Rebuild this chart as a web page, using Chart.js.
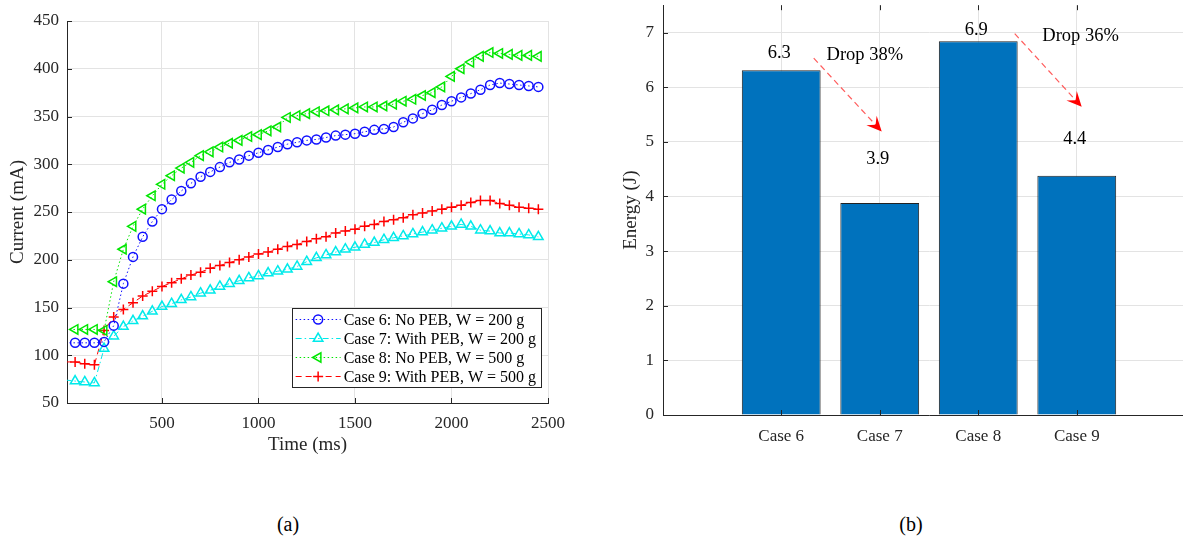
<!DOCTYPE html>
<html>
<head>
<meta charset="utf-8">
<script src="https://cdn.jsdelivr.net/npm/chart.js@4.4.0/dist/chart.umd.min.js"></script>
<style>
  html, body { margin: 0; padding: 0; background: #fff; }
  body { width: 1183px; height: 540px; position: relative; overflow: hidden; font-family: "Liberation Serif", "Times New Roman", serif; }
  #chartA { position: absolute; left: 0; top: 0; }
  #chartB { position: absolute; left: 600px; top: -14px; }
  .cap { position: absolute; top: 513px; width: 100px; text-align: center; font-size: 20px; line-height: 22px; color: #000; }
</style>
</head>
<body>
<canvas id="chartA" width="575" height="456"></canvas>
<canvas id="chartB" width="600" height="480"></canvas>
<div class="cap" style="left:238px">(a)</div>
<div class="cap" style="left:861px">(b)</div>

<script>
// ---- data, panel (a) ----
const timeMs = [0, 50, 100, 150, 200, 250, 300, 350, 400, 450, 500, 550, 600, 650, 700, 750, 800, 850, 900, 950,
  1000, 1050, 1100, 1150, 1200, 1250, 1300, 1350, 1400, 1450, 1500, 1550, 1600, 1650, 1700, 1750, 1800, 1850, 1900, 1950,
  2000, 2050, 2100, 2150, 2200, 2250, 2300, 2350, 2400, 2450];

const case6 = [113, 113, 113, 113, 114, 131, 175, 203, 224, 240, 253, 263, 272, 280, 287, 292, 297, 302, 305, 309,
  312, 315, 318, 321, 323, 325, 326, 328, 330, 331, 332, 334, 336, 337, 339, 344, 348, 353, 357, 362,
  366, 370, 374, 378, 383, 385, 384, 383, 382, 381];
const case7 = [74, 73, 72, 71, 107, 120, 130, 136, 141, 146, 151, 154, 158, 161, 165, 168, 172, 175, 178, 181,
  183, 186, 188, 190, 193, 198, 202, 205, 208, 211, 213, 216, 218, 221, 223, 225, 227, 229, 231, 233,
  235, 237, 235, 231, 230, 228, 228, 227, 226, 224];
const case8 = [127, 127, 127, 127, 126, 177, 211, 235, 253, 267, 279, 288, 296, 302, 309, 313, 318, 322, 325, 329,
  331, 335, 339, 349, 351, 353, 355, 356, 357, 358, 359, 360, 360, 361, 363, 366, 368, 372, 375, 381,
  392, 400, 407, 413, 417, 416, 415, 414, 414, 413];
const case9 = [93, 93, 91, 90, 126, 140, 148, 155, 162, 167, 172, 176, 180, 184, 187, 191, 194, 197, 200, 203,
  206, 208, 211, 214, 216, 219, 222, 224, 228, 230, 232, 235, 237, 240, 242, 244, 247, 249, 251, 253,
  255, 257, 260, 262, 262, 259, 257, 255, 254, 253];

const seriesNames = ['Case 6: No PEB, W = 200 g', 'Case 7: With PEB, W = 200 g', 'Case 8: No PEB, W = 500 g', 'Case 9: With PEB, W = 500 g'];
const xTickValues = [500, 1000, 1500, 2000, 2500];

// ---- data, panel (b) ----
const caseLabels = ['Case 6', 'Case 7', 'Case 8', 'Case 9'];
const casePos = [1, 2, 3, 4];
const energyJ = [6.31, 3.88, 6.84, 4.38];
const energyText = ['6.3', '3.9', '6.9', '4.4'];
const energyTextY = [6.62, 4.68, 7.05, 5.04];
const dropText = ['Drop 38%', 'Drop 36%'];
const dropTextX = [1.46, 3.65];
const dropTextY = [6.58, 6.94];
const arrowFrom = [[1.33, 6.53], [3.37, 6.98]];
const arrowTo = [[2.02, 5.19], [4.05, 5.64]];
const energyTicks = [0, 1, 2, 3, 4, 5, 6, 7];

const serif = '"Liberation Serif", "Times New Roman", serif';
const axisColor = '#262626';
const gridColor = '#e3e3e3';
Chart.defaults.font.family = serif;

function pts(vals) {
  return vals.map((v, i) => ({ x: timeMs[i], y: v }));
}

// MATLAB-like inward tick marks
function innerTicks(withTop) {
  return {
    id: 'innerTicks',
    afterDraw(chart) {
      const ctx = chart.ctx, a = chart.chartArea;
      const xs = chart.scales.x, ys = chart.scales.y;
      ctx.save();
      ctx.strokeStyle = axisColor;
      ctx.lineWidth = 1;
      ctx.beginPath();
      xs.ticks.forEach((t, i) => {
        const px = Math.round(xs.getPixelForTick(i)) + 0.5;
        ctx.moveTo(px, a.bottom); ctx.lineTo(px, a.bottom - 5);
        if (withTop) { ctx.moveTo(px, a.top); ctx.lineTo(px, a.top + 5); }
      });
      ys.ticks.forEach((t, i) => {
        const py = Math.round(ys.getPixelForTick(i)) + 0.5;
        ctx.moveTo(a.left, py); ctx.lineTo(a.left + 5, py);
      });
      ctx.stroke();
      ctx.restore();
    }
  };
}

// legend box inside the plot, bottom right
const legendBox = {
  id: 'legendBox',
  afterDraw(chart) {
    const ctx = chart.ctx, a = chart.chartArea;
    ctx.save();
    ctx.font = '16px ' + serif;
    let maxW = 0;
    chart.data.datasets.forEach(d => { maxW = Math.max(maxW, ctx.measureText(d.label).width); });
    const rowH = 19;
    const w = 52 + maxW + 5, h = rowH * chart.data.datasets.length + 3;
    const right = a.right - 7, bottom = a.bottom - 16;
    const left = right - w, top = bottom - h;
    ctx.fillStyle = '#fff';
    ctx.fillRect(left, top, w, h);
    ctx.strokeStyle = axisColor;
    ctx.lineWidth = 1;
    ctx.strokeRect(Math.round(left) + 0.5, Math.round(top) + 0.5, Math.round(w), Math.round(h));
    chart.data.datasets.forEach((d, i) => {
      const cy = top + 11.5 + i * rowH;
      ctx.strokeStyle = d.borderColor;
      ctx.lineWidth = d.borderWidth;
      ctx.setLineDash(d.borderDash || []);
      ctx.beginPath();
      ctx.moveTo(left + 4, cy); ctx.lineTo(left + 49, cy);
      ctx.stroke();
      ctx.setLineDash([]);
      ctx.fillStyle = 'rgba(0,0,0,0)';
      ctx.lineWidth = d.pointBorderWidth;
      Chart.helpers.drawPoint(ctx, { pointStyle: d.pointStyle, rotation: d.pointRotation || 0, radius: d.legendRadius, borderWidth: d.pointBorderWidth }, left + 26.5, cy);
      ctx.fillStyle = '#000';
      ctx.textBaseline = 'middle';
      ctx.textAlign = 'left';
      ctx.fillText(d.label, left + 52, cy + 1);
    });
    ctx.restore();
  }
};

function lineSet(label, vals, color, dash, style, radius, rot) {
  return {
    label: label,
    data: pts(vals),
    borderColor: color,
    borderWidth: 1,
    borderDash: dash,
    tension: 0,
    pointStyle: style,
    pointRotation: rot || 0,
    legendRadius: radius,
    pointRadius: (c) => c.dataIndex === 0 ? 0 : radius,
    pointBorderWidth: 1.5,
    pointBorderColor: color,
    pointBackgroundColor: 'rgba(0,0,0,0)'
  };
}

const chartA = new Chart(document.getElementById('chartA'), {
  type: 'line',
  data: {
    datasets: [
      lineSet(seriesNames[0], case6, '#1010ff', [1.5, 2.5], 'circle', 4.5),
      lineSet(seriesNames[1], case7, '#00eaea', [6, 3, 1.5, 3], 'triangle', 5.5),
      lineSet(seriesNames[2], case8, '#00e600', [1.5, 2.5], 'triangle', 5.5, -90),
      lineSet(seriesNames[3], case9, '#ff0000', [6, 4], 'cross', 5)
    ]
  },
  options: {
    responsive: false,
    animation: false,
    layout: { padding: { top: 21, right: 25, bottom: 0, left: 0 } },
    plugins: { legend: { display: false }, tooltip: { enabled: false } },
    scales: {
      x: {
        type: 'linear', min: 8, max: 2500,
        afterBuildTicks: s => { s.ticks = xTickValues.map(v => ({ value: v })); },
        afterFit: s => { s.height = 53; },
        grid: { color: gridColor, drawTicks: false },
        border: { color: axisColor },
        ticks: { padding: 10, color: axisColor, font: { size: 17 }, maxRotation: 0, callback: v => String(v) },
        title: { display: true, text: 'Time (ms)', color: axisColor, font: { size: 19 }, padding: 0 }
      },
      y: {
        min: 50, max: 450,
        ticks: { stepSize: 50, padding: 8, color: axisColor, font: { size: 17 } },
        afterFit: s => { s.width = 67; },
        grid: { color: gridColor, drawTicks: false },
        border: { color: axisColor },
        title: { display: true, text: 'Current (mA)', color: axisColor, font: { size: 19 }, padding: { top: 7, bottom: 0 } }
      }
    }
  },
  plugins: [innerTicks(false), legendBox]
});

// annotations for panel (b)
function arrowHead(ctx, x0, y0, x1, y1) {
  const ang = Math.atan2(y1 - y0, x1 - x0);
  const L = 15, W = 7;
  const dx = Math.cos(ang), dy = Math.sin(ang);
  ctx.beginPath();
  ctx.moveTo(x1, y1);
  ctx.lineTo(x1 - L * dx - W * dy, y1 - L * dy + W * dx);
  ctx.lineTo(x1 - 0.6 * L * dx, y1 - 0.6 * L * dy);
  ctx.lineTo(x1 - L * dx + W * dy, y1 - L * dy - W * dx);
  ctx.closePath();
  ctx.fill();
}

const barNotes = {
  id: 'barNotes',
  afterDatasetsDraw(chart) {
    const ctx = chart.ctx, xs = chart.scales.x, ys = chart.scales.y;
    ctx.save();
    ctx.font = '18.5px ' + serif;
    ctx.fillStyle = '#000';
    ctx.textBaseline = 'middle';
    ctx.textAlign = 'center';
    energyText.forEach((t, i) => {
      ctx.fillText(t, xs.getPixelForValue(casePos[i]) - 2, ys.getPixelForValue(energyTextY[i]));
    });
    ctx.textAlign = 'left';
    dropText.forEach((t, i) => {
      ctx.fillText(t, xs.getPixelForValue(dropTextX[i]), ys.getPixelForValue(dropTextY[i]));
    });
    arrowFrom.forEach((f, i) => {
      const x0 = xs.getPixelForValue(f[0]), y0 = ys.getPixelForValue(f[1]);
      const x1 = xs.getPixelForValue(arrowTo[i][0]), y1 = ys.getPixelForValue(arrowTo[i][1]);
      ctx.strokeStyle = '#ff5c5c';
      ctx.lineWidth = 1.2;
      ctx.setLineDash([6, 4]);
      ctx.beginPath();
      ctx.moveTo(x0, y0);
      ctx.lineTo(x1, y1);
      ctx.stroke();
      ctx.setLineDash([]);
      ctx.fillStyle = '#ff0000';
      arrowHead(ctx, x0, y0, x1, y1);
      ctx.fillStyle = '#000';
    });
    ctx.restore();
  }
};

const chartB = new Chart(document.getElementById('chartB'), {
  type: 'bar',
  data: {
    datasets: [{
      label: 'Energy',
      data: energyJ.map((v, i) => ({ x: casePos[i], y: v })),
      backgroundColor: '#0072BD',
      borderColor: '#222',
      borderWidth: 1,
      barPercentage: 0.8,
      categoryPercentage: 1
    }]
  },
  options: {
    responsive: false,
    animation: false,
    layout: { padding: { top: 12, right: 5, bottom: 0, left: 0 } },
    plugins: { legend: { display: false }, tooltip: { enabled: false } },
    scales: {
      x: {
        type: 'linear', min: -0.2, max: 5.2, offset: false,
        afterBuildTicks: s => { s.ticks = casePos.map(v => ({ value: v })); },
        afterFit: s => { s.height = 51; },
        grid: { color: gridColor, drawTicks: false, offset: false },
        border: { color: axisColor },
        ticks: { padding: 11, color: axisColor, font: { size: 17 }, maxRotation: 0, callback: (v, i) => caseLabels[i] }
      },
      y: {
        min: 0, max: 7.5,
        afterBuildTicks: s => { s.ticks = energyTicks.map(v => ({ value: v })); },
        afterFit: s => { s.width = 63; },
        grid: { color: gridColor, drawTicks: false },
        border: { color: axisColor },
        ticks: { padding: 9, color: axisColor, font: { size: 17 } },
        title: { display: true, text: 'Energy (J)', color: axisColor, font: { size: 19 }, padding: { top: 20, bottom: 0 } }
      }
    }
  },
  plugins: [innerTicks(true), barNotes]
});
</script>
</body>
</html>
